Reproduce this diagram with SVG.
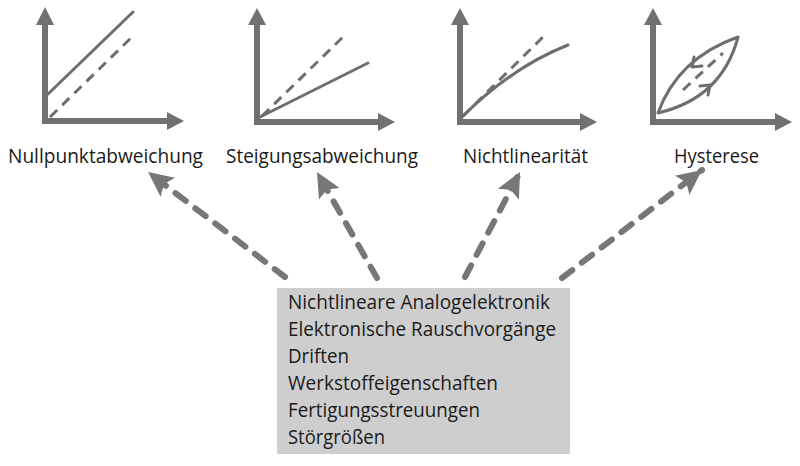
<svg xmlns="http://www.w3.org/2000/svg" width="800" height="466" viewBox="0 0 800 466">
<style>
.ax{fill:none;stroke:#717171;stroke-width:6;stroke-linejoin:miter}
.ah{fill:#717171}
.ln{fill:none;stroke:#6e6e6e;stroke-width:3;stroke-linecap:round;stroke-linejoin:round}
.ds{fill:none;stroke:#6e6e6e;stroke-width:3;stroke-dasharray:10 7}
.lbl{font-family:"Open Sans","Liberation Sans",sans-serif;font-size:19.5px;fill:#1a1a1a}
.con{fill:none;stroke:#777;stroke-width:6;stroke-linecap:round;stroke-dasharray:13 12}
</style>
<defs>
<marker id="ar" markerUnits="userSpaceOnUse" markerWidth="30" markerHeight="30" viewBox="-22 -12 24 24" refX="0" refY="0" orient="auto">
<path d="M0,0 L-20,-9.5 L-16,0 L-20,9.5 Z" fill="#777"/>
</marker>
</defs>
<g id="chart1">
<polyline class="ax" points="45,24 45,121 168,121"/>
<polygon class="ah" points="36,25 54,25 45,7"/>
<polygon class="ah" points="167,112 167,130 184,121"/>
<line class="ln" x1="48" y1="94" x2="133" y2="12"/>
<line class="ds" x1="50" y1="117" x2="132" y2="37"/>
<text class="lbl" x="8" y="163" textLength="195" lengthAdjust="spacingAndGlyphs">Nullpunktabweichung</text>
</g>
<g id="chart2">
<polyline class="ax" points="257,24 257,122 380,122"/>
<polygon class="ah" points="248,25 266,25 257,8"/>
<polygon class="ah" points="378,113 378,131 395,122"/>
<line class="ln" x1="260" y1="117" x2="368" y2="63"/>
<line class="ds" x1="262" y1="116" x2="343" y2="37"/>
<text class="lbl" x="226" y="163" textLength="192" lengthAdjust="spacingAndGlyphs">Steigungsabweichung</text>
</g>
<g id="chart3">
<polyline class="ax" points="460,24 460,122 582,122"/>
<polygon class="ah" points="451,25 469,25 460,8"/>
<polygon class="ah" points="580,113 580,131 597,122"/>
<path class="ln" d="M462,117 Q512,67 568,45"/>
<line class="ds" x1="463" y1="116" x2="543" y2="37"/>
<text class="lbl" x="463" y="163" textLength="125" lengthAdjust="spacingAndGlyphs">Nichtlinearität</text>
</g>
<g id="chart4">
<polyline class="ax" points="653,24 653,122 777,122"/>
<polygon class="ah" points="644,25 662,25 653,8"/>
<polygon class="ah" points="775,113 775,131 792,122"/>
<path class="ln" d="M658,113 Q678,58 738,37 Q722,98 658,113"/>
<line class="ds" x1="683" y1="90" x2="723" y2="53"/>
<polyline class="ln" points="702,66 692,67 694,57"/>
<polyline class="ln" points="708,95 710,85 700,86"/>
<text class="lbl" x="674" y="163" textLength="85" lengthAdjust="spacingAndGlyphs">Hysterese</text>
</g>
<g id="causes">
<rect x="277" y="288" width="293" height="166" fill="#cecece"/>
<text class="lbl" x="288" y="309" textLength="262" lengthAdjust="spacingAndGlyphs">Nichtlineare Analogelektronik</text>
<text class="lbl" x="288" y="336" textLength="268" lengthAdjust="spacingAndGlyphs">Elektronische Rauschvorgänge</text>
<text class="lbl" x="288" y="363" textLength="61" lengthAdjust="spacingAndGlyphs">Driften</text>
<text class="lbl" x="288" y="390" textLength="210" lengthAdjust="spacingAndGlyphs">Werkstoffeigenschaften</text>
<text class="lbl" x="288" y="417" textLength="192" lengthAdjust="spacingAndGlyphs">Fertigungsstreuungen</text>
<text class="lbl" x="288" y="444" textLength="97" lengthAdjust="spacingAndGlyphs">Störgrößen</text>
</g>
<g id="connectors">
<line class="con" x1="285" y1="277" x2="148" y2="172" marker-end="url(#ar)"/>
<line class="con" x1="377" y1="278" x2="317" y2="172" marker-end="url(#ar)"/>
<line class="con" x1="465" y1="277" x2="520" y2="172" marker-end="url(#ar)"/>
<line class="con" x1="562" y1="278" x2="702" y2="170" marker-end="url(#ar)"/>
</g>
</svg>
